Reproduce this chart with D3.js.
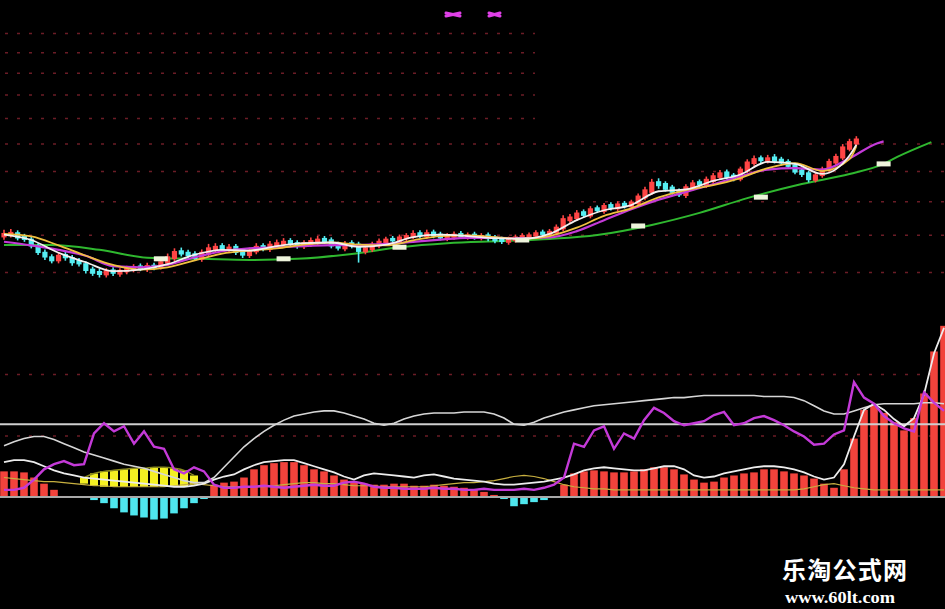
<!DOCTYPE html>
<html><head><meta charset="utf-8">
<script src="https://cdn.jsdelivr.net/npm/d3@7"></script>
<style>html,body{margin:0;padding:0;background:#000;overflow:hidden}</style>
</head><body><svg id="c" width="945" height="609"></svg>
<script>
// ---------- price panel data (daily candles) ----------
const openP = [8.95,9.00,9.04,8.95,8.86,8.68,8.50,8.38,8.30,8.44,
8.36,8.28,8.20,8.06,8.00,7.94,8.04,7.96,8.02,8.06,
8.14,8.08,8.16,8.12,8.24,8.36,8.54,8.50,8.46,8.34,
8.48,8.60,8.68,8.58,8.66,8.54,8.44,8.54,8.68,8.60,
8.70,8.74,8.82,8.76,8.68,8.74,8.80,8.88,8.84,8.72,
8.62,8.76,8.72,8.54,8.60,8.70,8.78,8.88,8.82,8.90,
8.94,9.04,8.96,9.06,9.00,8.90,8.94,9.02,8.94,9.00,
8.92,8.98,8.92,8.86,8.80,8.85,8.90,8.95,8.97,9.06,
9.00,9.06,9.18,9.42,9.48,9.66,9.56,9.78,9.70,9.88,
9.78,9.92,9.84,9.94,10.12,10.30,10.62,10.56,10.44,10.32,
10.20,10.42,10.62,10.52,10.66,10.80,10.95,10.84,10.74,11.02,
11.28,11.45,11.36,11.48,11.40,11.32,11.20,11.02,10.92,10.70,
10.86,11.04,11.30,11.48,11.80,12.00];
const closeP = [9.02,9.05,8.92,8.88,8.70,8.52,8.40,8.30,8.42,8.38,
8.25,8.22,8.05,7.98,7.95,8.02,7.98,8.03,8.08,8.12,
8.10,8.15,8.12,8.25,8.38,8.52,8.48,8.44,8.36,8.50,
8.62,8.66,8.60,8.64,8.52,8.45,8.55,8.66,8.62,8.72,
8.76,8.80,8.74,8.70,8.76,8.82,8.86,8.82,8.70,8.64,
8.72,8.70,8.55,8.62,8.72,8.80,8.86,8.84,8.92,8.96,
9.02,8.98,9.04,8.98,8.92,8.96,9.00,8.96,8.98,8.94,
8.96,8.90,8.84,8.82,8.86,8.92,8.96,8.98,9.04,9.02,
9.08,9.20,9.45,9.50,9.62,9.58,9.75,9.72,9.85,9.80,
9.90,9.86,9.96,10.15,10.35,10.60,10.52,10.40,10.30,10.22,
10.45,10.58,10.55,10.70,10.82,10.92,10.80,10.75,11.05,11.30,
11.42,11.38,11.45,11.36,11.30,11.18,10.98,10.90,10.72,10.85,
11.05,11.32,11.50,11.85,12.05,12.15];
const highP = [9.10,9.12,9.08,8.98,8.90,8.72,8.55,8.42,8.48,8.48,
8.40,8.32,8.24,8.10,8.04,8.06,8.08,8.06,8.12,8.16,
8.18,8.20,8.20,8.30,8.44,8.58,8.60,8.54,8.50,8.55,
8.70,8.72,8.72,8.70,8.70,8.58,8.60,8.72,8.72,8.78,
8.82,8.86,8.86,8.80,8.80,8.88,8.92,8.92,8.88,8.76,
8.78,8.80,8.76,8.66,8.76,8.85,8.90,8.92,8.96,9.00,
9.08,9.08,9.10,9.10,9.04,9.00,9.05,9.06,9.02,9.04,
9.00,9.02,8.95,8.90,8.90,8.96,9.00,9.02,9.08,9.10,
9.12,9.25,9.52,9.56,9.68,9.70,9.80,9.82,9.90,9.92,
9.95,9.96,10.00,10.20,10.42,10.68,10.70,10.60,10.48,10.36,
10.50,10.64,10.66,10.76,10.88,10.98,11.00,10.88,11.10,11.36,
11.50,11.50,11.52,11.55,11.45,11.36,11.24,11.06,10.96,10.90,
11.10,11.38,11.56,11.92,12.12,12.22];
const lowP = [8.90,8.96,8.88,8.84,8.66,8.48,8.35,8.26,8.26,8.33,
8.20,8.18,8.00,7.94,7.90,7.90,7.94,7.92,7.98,8.03,
8.06,8.04,8.08,8.10,8.20,8.32,8.44,8.40,8.32,8.30,
8.45,8.56,8.56,8.55,8.48,8.40,8.40,8.50,8.58,8.56,
8.66,8.70,8.70,8.65,8.64,8.70,8.76,8.78,8.66,8.60,
8.58,8.66,8.28,8.50,8.56,8.66,8.74,8.80,8.78,8.86,
8.92,8.94,8.92,8.94,8.88,8.86,8.90,8.92,8.90,8.90,
8.88,8.86,8.80,8.78,8.76,8.82,8.86,8.92,8.94,8.98,
8.96,9.02,9.15,9.38,9.44,9.54,9.52,9.68,9.66,9.76,
9.74,9.82,9.80,9.90,10.08,10.25,10.45,10.36,10.26,10.18,
10.15,10.38,10.50,10.48,10.62,10.76,10.76,10.70,10.70,10.98,
11.24,11.32,11.32,11.32,11.25,11.12,10.94,10.85,10.66,10.66,
10.82,11.00,11.26,11.44,11.76,11.96];

// moving averages as [day, price]
const ma5 = [[0,9.00],[4,8.85],[8,8.50],[12,8.25],[16,8.02],[20,8.06],[24,8.20],[28,8.45],[32,8.58],[36,8.56],[40,8.68],[44,8.76],[48,8.78],[52,8.66],[56,8.72],[60,8.93],[64,9.00],[68,8.96],[72,8.90],[76,8.88],[80,9.02],[84,9.42],[88,9.72],[92,9.88],[96,10.32],[100,10.38],[104,10.66],[108,10.88],[112,11.32],[116,11.25],[120,10.90],[124,11.55],[125,11.95]];
const ma10 = [[0,9.02],[4,8.95],[8,8.70],[12,8.42],[16,8.18],[20,8.06],[24,8.12],[28,8.30],[32,8.48],[36,8.56],[40,8.62],[44,8.72],[48,8.78],[52,8.72],[56,8.70],[60,8.84],[64,8.96],[68,8.98],[72,8.93],[76,8.88],[80,8.96],[84,9.20],[88,9.55],[92,9.78],[96,10.12],[100,10.36],[104,10.52],[108,10.76],[112,11.10],[116,11.28],[120,11.00],[124,11.42],[125,11.90]];
const ma20 = [[0,8.80],[4,8.70],[8,8.58],[12,8.42],[16,8.15],[20,8.12],[24,8.18],[28,8.38],[32,8.54],[36,8.62],[40,8.65],[44,8.68],[48,8.71],[52,8.71],[56,8.74],[60,8.80],[64,8.86],[68,8.91],[72,8.91],[76,8.90],[80,8.92],[84,9.10],[88,9.42],[92,9.75],[96,10.05],[100,10.30],[104,10.55],[108,10.82],[112,11.05],[116,11.10],[120,11.05],[124,11.45],[128,12.00],[129,12.08]];
const ma60 = [[0,8.71],[7,8.71],[14,8.58],[21,8.37],[29,8.34],[36,8.31],[43,8.34],[51,8.47],[58,8.65],[65,8.76],[73,8.82],[80,8.88],[87,8.99],[95,9.28],[102,9.64],[109,10.10],[117,10.56],[124,10.90],[129,11.25],[131,11.50],[136,12.05]];
const markers = [[23,8.34],[41,8.34],[58,8.65],[76,8.85],[93,9.25],[111,10.13],[129,11.25]];
const gridShort = [13,14,15,16,17];
const gridLong = [8,9,10,11,12];

// ---------- indicator panel data ----------
const hist = [25,25,24,19,13,7,1,0,-1,-3,
-6,-11,-15,-18,-20,-22,-21,-16,-11,-6,
-2,12,14,15,19,27,31,33,34,34,
31,27,25,21,17,14,13,12,12,13,
13,11,11,12,11,10,9,7,5,2,
-2,-9,-7,-5,-3,-1,12,23,25,26,
25,24,24,25,27,29,29,27,22,17,
14,15,19,21,23,24,27,27,25,23,
21,18,13,9,27,57,85,89,82,73,
65,77,101,142,167];
const yellowIdx = [8,9,10,11,12,13,14,15,16,17,18,19];
const yellowTop = [19,23,25,26,27,28,28,29,29,28,26,21];
const yellowBot = [13,11,10,10,10,10,10,10,10,10,10,12];
const upperWhite = [50,54,57,59,59,56,52,48,44,41,
38,35,32,30,28,25,22,19,16,14,
14,19,29,39,49,57,64,70,75,79,
81,83,84,84,82,79,76,72,70,72,
76,79,81,82,82,82,83,83,83,81,
77,71,70,73,77,80,83,85,87,89,
90,91,92,93,94,95,96,97,97,98,
99,99,99,99,99,99,98,98,98,97,
94,89,84,81,81,84,87,90,91,91,
91,91,92,92,91];
const lowerWhite = [34,36,36,34,30,26,23,21,19,18,
17,16,15,14,13,12,11,10,10,11,
13,17,20,22,27,31,34,35,36,36,
33,30,27,24,20,17,21,23,22,21,
20,19,21,22,20,18,17,16,15,13,
12,12,13,14,15,17,19,22,26,28,
29,28,27,26,26,28,30,30,27,21,
19,20,23,25,27,29,30,30,29,27,
24,20,17,19,32,59,85,91,85,76,
69,77,100,140,165];
const magentaLine = [7,7,9,17,27,32,35,31,32,62,
72,64,69,52,64,49,47,27,23,29,
25,12,9,9,10,10,11,10,9,10,
11,12,11,11,14,15,13,10,9,9,
8,8,8,9,8,8,7,7,8,7,
7,7,8,7,9,12,19,52,49,65,
69,47,62,57,75,87,82,74,70,72,
74,80,83,70,72,77,79,75,70,64,
59,51,52,61,65,112,97,91,79,72,
67,64,102,92,84];
const yellowLine = [19,18,17,16,15,15,14,13,12,11,
11,10,10,10,10,10,10,11,12,13,
12,11,10,10,10,10,10,11,12,13,
14,14,13,13,12,11,11,11,10,10,
10,10,10,11,12,13,14,14,15,16,
18,20,21,20,18,15,12,10,9,8,
8,7,7,7,7,7,7,7,7,7,
7,7,7,7,7,7,7,7,7,7,
8,10,12,13,11,9,8,7,7,7,
7,7,7,7,7];
const lowerGrid = [60,120];
const refLevel = 71;

// ---------- drawing ----------
const W = 945, H = 609;
const svg = d3.select('#c');
svg.append('rect').attr('width', W).attr('height', H).attr('fill', '#000');

const UP = '#ff4545', DOWN = '#55eef2', GRID = '#6b1c26';

const x = d3.scaleLinear().domain([0, 138]).range([4, 945]);
const y = d3.scaleLog().domain([8, 17]).range([272, 33]);

function gridAxis(scale, vals, len, x0) {
  const g = svg.append('g').attr('transform', `translate(${x0},0)`)
    .call(d3.axisRight(scale).tickValues(vals).tickSize(len).tickFormat(''));
  g.select('.domain').remove();
  g.selectAll('line').attr('stroke', GRID).attr('stroke-width', 1.5).attr('stroke-dasharray', '3,9');
}
gridAxis(y, gridShort, 530, 5);
gridAxis(y, gridLong, 940, 5);

// top magenta marks
const mk = svg.append('g').attr('stroke', '#e040e8').attr('stroke-width', 3).attr('stroke-linecap', 'round');
[[446, 460], [489, 500]].forEach(([a, b]) => {
  mk.append('line').attr('x1', a).attr('x2', b).attr('y1', 13).attr('y2', 16);
  mk.append('line').attr('x1', a).attr('x2', b).attr('y1', 16).attr('y2', 13);
});

const lineGen = d3.line().x(d => x(d[0])).y(d => y(d[1])).curve(d3.curveMonotoneX);

svg.append('path').datum(ma60).attr('d', lineGen).attr('fill', 'none').attr('stroke', '#2fb82f').attr('stroke-width', 2);

// candles
const idx = d3.range(closeP.length);
const cg = svg.append('g');
cg.selectAll('line').data(idx).join('line')
  .attr('x1', i => x(i)).attr('x2', i => x(i))
  .attr('y1', i => y(highP[i]) - 1.5).attr('y2', i => y(lowP[i]) + 1.5)
  .attr('stroke', i => closeP[i] >= openP[i] ? UP : DOWN).attr('stroke-width', 1.6);
cg.selectAll('rect').data(idx).join('rect')
  .attr('x', i => x(i) - 2.6).attr('width', 5.2)
  .attr('y', i => y(Math.max(openP[i], closeP[i])) - 1)
  .attr('height', i => Math.max(3, Math.abs(y(openP[i]) - y(closeP[i])) + 2))
  .attr('fill', i => closeP[i] >= openP[i] ? UP : DOWN);

svg.append('path').datum(ma20).attr('d', lineGen).attr('fill', 'none').attr('stroke', '#c43ad8').attr('stroke-width', 2.2);
svg.append('path').datum(ma10).attr('d', lineGen).attr('fill', 'none').attr('stroke', '#f0c040').attr('stroke-width', 1.8);
svg.append('path').datum(ma5).attr('d', lineGen).attr('fill', 'none').attr('stroke', '#f4f0f0').attr('stroke-width', 1.8);

svg.append('g').selectAll('rect').data(markers).join('rect')
  .attr('x', d => x(d[0]) - 7).attr('y', d => y(d[1]) - 2.5)
  .attr('width', 14).attr('height', 5).attr('fill', '#eef4dc');

// indicator panel
const xl = d3.scaleLinear().domain([0, 94]).range([4, 944]);
const yl = d3.scaleLinear().domain([0, 120]).range([497, 374]);
gridAxis(yl, lowerGrid, 940, 5);

const hg = svg.append('g');
hg.selectAll('rect').data(hist).join('rect')
  .attr('x', (d, i) => xl(i) - 3.8).attr('width', 7.6)
  .attr('y', d => yl(Math.max(0, d)))
  .attr('height', d => Math.abs(yl(d) - yl(0)))
  .attr('fill', d => d >= 0 ? '#f2433c' : '#4fe6ee');

svg.append('g').selectAll('rect').data(yellowIdx).join('rect')
  .attr('x', (d) => xl(d) - 4).attr('width', 8)
  .attr('y', (d, i) => yl(yellowTop[i]))
  .attr('height', (d, i) => yl(yellowBot[i]) - yl(yellowTop[i]))
  .attr('fill', '#f4f022');
svg.append('path').datum(yellowIdx.map((d, i) => [d, yellowTop[i]]))
  .attr('d', d3.line().x(d => xl(d[0])).y(d => yl(d[1])).curve(d3.curveMonotoneX))
  .attr('fill', 'none').attr('stroke', '#8a8a20').attr('stroke-width', 1.5);

svg.append('line').attr('x1', 0).attr('x2', W).attr('y1', yl(refLevel)).attr('y2', yl(refLevel))
  .attr('stroke', '#cfcfcf').attr('stroke-width', 2);
svg.append('line').attr('x1', 0).attr('x2', W).attr('y1', yl(0)).attr('y2', yl(0))
  .attr('stroke', '#a8a8a8').attr('stroke-width', 2);

const ll = d3.line().x((d, i) => xl(i)).y(d => yl(d));
svg.append('path').datum(yellowLine).attr('d', ll).attr('fill', 'none').attr('stroke', '#c8b040').attr('stroke-width', 1.2);
svg.append('path').datum(upperWhite).attr('d', ll).attr('fill', 'none').attr('stroke', '#d6d6d6').attr('stroke-width', 1.6);
svg.append('path').datum(lowerWhite).attr('d', ll).attr('fill', 'none').attr('stroke', '#ececec').attr('stroke-width', 1.8);
svg.append('path').datum(magentaLine).attr('d', ll).attr('fill', 'none').attr('stroke', '#c43ad8').attr('stroke-width', 2.4);

// watermark
svg.append('text').attr('x', 782).attr('y', 579).text('乐淘公式网')
  .attr('font-family', '"Noto Sans CJK SC", sans-serif').attr('font-weight', 'bold')
  .attr('font-size', 24).attr('fill', '#ffffff').attr('textLength', 125);
svg.append('text').attr('x', 785).attr('y', 603).text('www.60lt.com')
  .attr('font-family', '"Liberation Serif", serif').attr('font-weight', 'bold')
  .attr('font-size', 16).attr('fill', '#ffffff').attr('textLength', 110)
  .attr('lengthAdjust', 'spacingAndGlyphs');
</script>
</body></html>
